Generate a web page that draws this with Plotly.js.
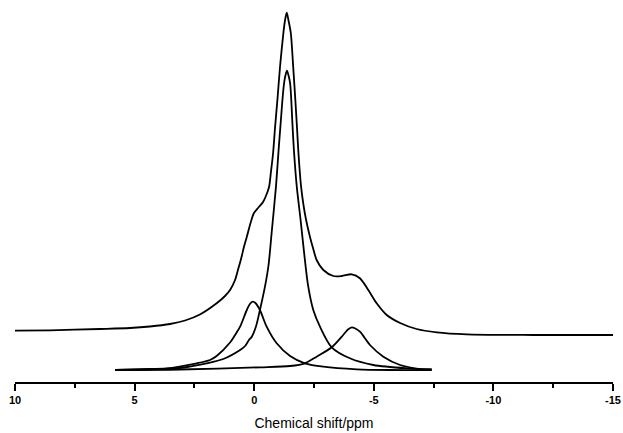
<!DOCTYPE html>
<html>
<head>
<meta charset="utf-8">
<script src="https://cdn.plot.ly/plotly-3.0.1.min.js"></script>
<style>html,body{margin:0;padding:0;background:#fff;}#chart{width:623px;height:433px;}</style>
</head>
<body>
<div id="chart"></div>
<script>
// Chemical shift (ppm) and intensity (arbitrary units)
const totalShift = [10, 8.54, 6.45, 5.19, 4.36, 3.52, 2.89, 2.27, 1.57, 1.22, 1.01, 0.80, 0.68, 0.55, 0.43, 0.31, 0.13, 0.01, -0.16, -0.37, -0.49, -0.62, -0.70, -0.79, -0.87, -0.97, -1.08, -1.22, -1.29, -1.36, -1.43, -1.53, -1.63, -1.72, -1.79, -1.85, -1.96, -2.06, -2.17, -2.33, -2.47, -2.61, -2.89, -3.31, -3.66, -4.08, -4.42, -4.77, -5.12, -5.54, -6.10, -6.79, -7.63, -8.88, -11.66, -15];
const totalInt = [51.3, 51.7, 53, 54, 55.5, 58, 61.5, 67.5, 78.7, 86, 92, 102, 112, 123, 135, 145, 161, 169, 174, 180, 186, 195, 210, 229, 254, 282, 315.3, 349, 362, 369.3, 362, 349, 315.3, 282, 254, 229, 195.3, 177, 162, 145.3, 133, 122, 112, 106, 106, 107.7, 103.7, 92, 78.7, 67, 59, 53, 49.7, 47.7, 47, 47];

const mainShift = [5.82, 4.36, 3.69, 3.10, 1.99, 1.29, 0.59, 0.38, 0.22, 0.10, -0.08, -0.24, -0.45, -0.60, -0.74, -0.91, -1.02, -1.11, -1.18, -1.25, -1.31, -1.37, -1.43, -1.50, -1.55, -1.59, -1.66, -1.78, -1.94, -2.12, -2.26, -2.47, -2.75, -3.24, -4.00, -4.98, -6.38, -7.42];
const mainInt = [12, 12.7, 13, 14, 18.7, 23, 32, 36, 42, 45.3, 56, 72, 95.3, 117, 152, 195.3, 232, 260, 282, 299, 307, 311.3, 307, 299, 282, 262, 232, 195.3, 162, 122, 95.3, 72, 55.3, 34.7, 23.7, 17, 13.7, 12.7];

const peakAShift = [5.82, 4.36, 3.69, 2.40, 1.85, 1.57, 1.01, 0.80, 0.59, 0.31, 0.18, 0.06, -0.05, -0.24, -0.52, -0.94, -1.50, -2.12, -2.89, -4.29, -5.68, -7.42];
const peakAInt = [12, 13, 13.5, 18.7, 22, 26, 39.5, 47, 55.3, 72, 78, 80.3, 79, 72, 55.3, 38.7, 26, 18.7, 15.3, 12.7, 12, 12];

const peakCShift = [5.82, 3.10, -0.24, -1.50, -2.12, -2.61, -3.24, -3.72, -3.92, -4.08, -4.21, -4.42, -4.84, -5.40, -6.10, -7.07, -7.42];
const peakCInt = [12, 12.5, 14.7, 16, 18.7, 25.3, 34.7, 47, 52.5, 54.7, 53.7, 50.3, 37, 25.3, 17, 12.7, 12.7];

const xTickVals = [10, 5, 0, -5, -10, -15];
const xTickText = ['10', '5', '0', '-5', '-10', '-15'];

const lineStyle = {color: '#000', width: 1.8, shape: 'spline', smoothing: 0.8};
const traces = [
  {x: totalShift, y: totalInt, mode: 'lines', line: lineStyle, name: 'Total'},
  {x: mainShift, y: mainInt, mode: 'lines', line: lineStyle, name: 'Peak -1.4'},
  {x: peakAShift, y: peakAInt, mode: 'lines', line: lineStyle, name: 'Peak 0.1'},
  {x: peakCShift, y: peakCInt, mode: 'lines', line: lineStyle, name: 'Peak -4.1'}
];

const layout = {
  width: 623, height: 433,
  margin: {l: 15, r: 10, t: 0, b: 51},
  paper_bgcolor: '#fff', plot_bgcolor: '#fff',
  showlegend: false,
  font: {family: 'Arial, Liberation Sans, sans-serif', color: '#000', size: 11},
  xaxis: {
    range: [10, -15],
    showgrid: false, zeroline: false,
    showline: true, linecolor: '#000', linewidth: 2,
    ticks: 'outside', ticklen: 7, tickwidth: 2, tickcolor: '#000',
    tickvals: xTickVals, ticktext: xTickText,
    tickfont: {size: 11, color: '#000', weight: 'bold'},
    minor: {dtick: 2.5, tick0: 0, ticks: 'outside', ticklen: 4, tickwidth: 2, tickcolor: '#000', showgrid: false},
    title: {text: 'Chemical shift/ppm', font: {size: 14, color: '#000'}, standoff: 13}
  },
  yaxis: {
    range: [0, 382],
    visible: false, showgrid: false, zeroline: false
  }
};

Plotly.newPlot('chart', traces, layout, {displayModeBar: false, staticPlot: true});
</script>
</body>
</html>
